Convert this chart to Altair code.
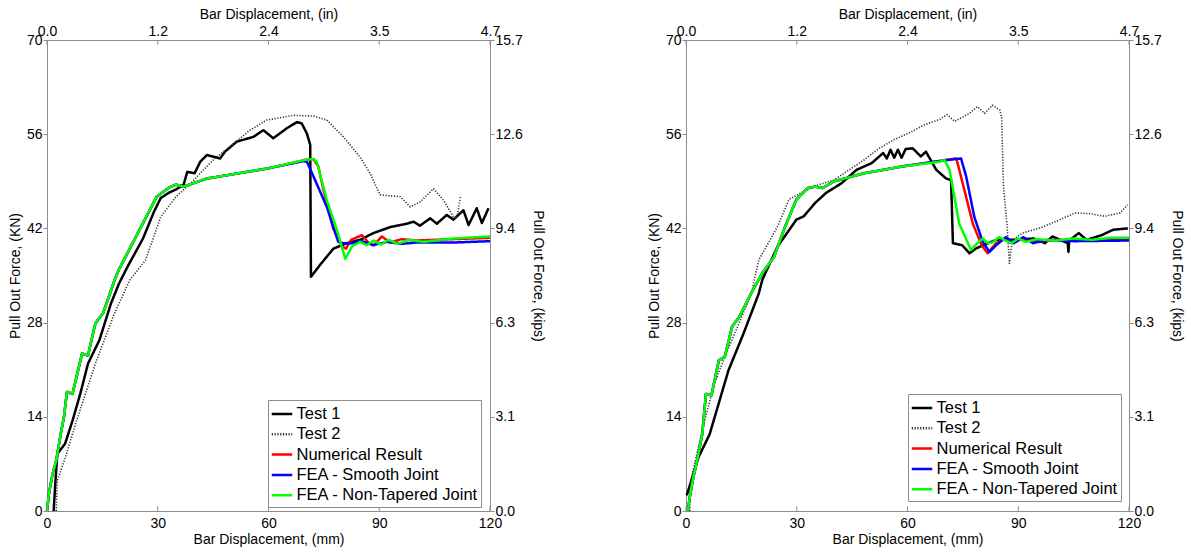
import json
import altair as alt
import pandas as pd

FONT = "Liberation Sans"
GRAY = "#8c8c8c"

SERIES = ["Test 1", "Test 2", "Numerical Result", "FEA - Smooth Joint", "FEA - Non-Tapered Joint"]
COLORS = ["#000000", "#333333", "#ff0000", "#0000ff", "#00ff00"]
DASHES = [[1, 0], [1.2, 1.6], [1, 0], [1, 0], [1, 0]]
WIDTHS = [2.5, 1.6, 2.5, 2.5, 2.5]

MM_TICKS = [0, 30, 60, 90, 120]
IN_LABELS = ["0.0", "1.2", "2.4", "3.5", "4.7"]
KN_TICKS = [0, 14, 28, 42, 56, 70]
KIPS_LABELS = ["0.0", "3.1", "6.3", "9.4", "12.6", "15.7"]

# ---------------- Left panel ----------------
L_T1_MM = [1.8, 2.3, 2.8, 4.9, 6.9, 9.0, 11.1, 14.2, 17.3, 19.5, 22.0, 26.0, 29.0, 30.8, 33.0, 35.0, 37.0, 38.0, 40.0,
           41.5, 43.3, 46.9, 48.2, 51.4, 55.9, 58.6, 61.3, 65.0, 67.7, 69.0, 70.4, 71.3, 71.5, 74.0, 77.6, 81.2,
           84.8, 88.4, 93.0, 97.5, 99.3, 101.0, 103.8, 105.6, 108.3, 110.1, 112.8, 114.2, 116.4, 117.8, 119.6]
L_T1_KN = [0.0, 4.5, 8.5, 10.0, 13.4, 17.4, 21.9, 25.4, 30.8, 33.8, 36.5, 40.5, 44.5, 46.5, 47.3, 47.8, 48.5, 50.4, 50.2,
           51.9, 52.9, 52.4, 53.4, 54.9, 55.6, 56.6, 55.4, 56.9, 57.8, 57.6, 56.1, 54.4, 34.8, 36.6, 39.0, 39.8,
           40.3, 41.3, 42.2, 42.7, 43.0, 42.4, 43.5, 42.7, 44.0, 43.3, 44.7, 42.5, 45.0, 42.8, 45.0]

L_T2_MM = [2.5, 2.8, 5.0, 8.0, 13.1, 18.3, 22.4, 26.7, 30.8, 34.9, 39.0, 41.5, 45.1, 50.5, 55.0, 59.5, 66.7, 72.2,
           75.8, 80.3, 84.8, 87.5, 90.2, 95.7, 98.4, 101.0, 104.7, 107.4, 110.1, 111.0, 112.0]
L_T2_KN = [0.0, 4.5, 8.0, 13.4, 21.9, 29.4, 34.3, 37.3, 43.7, 46.7, 48.7, 50.2, 52.2, 54.6, 56.6, 58.1, 58.8, 58.7,
           58.1, 55.6, 52.6, 50.2, 47.0, 46.7, 45.2, 45.9, 47.9, 46.2, 43.7, 43.5, 46.7]

L_FEA_RISE_MM = [0.0, 0.5, 1.5, 2.5, 3.8, 4.6, 5.4, 6.9, 9.5, 11.1, 13.1, 15.2, 18.3, 19.4, 24.6, 29.7, 32.9, 34.9,
                 37.0, 43.2, 59.7]
L_FEA_RISE_KN = [0.0, 2.5, 5.5, 7.5, 11.7, 14.0, 17.7, 17.4, 23.4, 23.1, 27.9, 29.4, 34.3, 35.8, 41.3, 46.7, 48.0, 48.5,
                 48.2, 49.4, 50.9]

L_RED_MM = [70.1, 72.2, 73.5, 74.9, 77.5, 79.9, 81.0, 82.4, 85.3, 87.2, 88.5, 90.7, 93.0, 96.0, 100.0, 110.0, 120.0]
L_RED_KN = [52.2, 52.3, 51.2, 47.7, 42.0, 39.3, 39.0, 40.3, 41.0, 39.8, 39.5, 40.8, 39.9, 40.4, 40.2, 40.4, 40.6]

L_BLUE_MM = [69.5, 70.4, 72.2, 75.8, 78.9, 80.3, 82.9, 84.8, 88.4, 92.0, 96.0, 100.0, 110.0, 120.0]
L_BLUE_KN = [52.0, 51.9, 49.7, 45.2, 40.0, 39.8, 39.8, 40.2, 39.5, 40.0, 39.7, 39.9, 39.9, 40.1]

L_GREEN_MM = [70.1, 72.2, 73.1, 75.8, 78.5, 80.8, 82.6, 84.8, 86.6, 88.5, 90.5, 92.5, 95.0, 98.0, 102.0, 110.0, 120.0]
L_GREEN_KN = [52.2, 52.3, 51.9, 46.2, 41.8, 37.5, 39.3, 40.0, 39.5, 40.2, 39.6, 40.3, 39.7, 40.3, 40.0, 40.5, 40.8]

# ---------------- Right panel ----------------
R_T1_MM = [0.0, 0.3, 3.4, 6.4, 11.5, 15.6, 19.7, 20.7, 24.8, 29.9, 31.9, 35.0, 38.0, 42.1, 46.2, 50.3, 53.4, 54.4,
           55.4, 56.4, 57.4, 58.4, 59.5, 61.4, 63.6, 65.0, 67.8, 70.5, 71.8, 72.3, 74.8, 76.8, 78.5, 80.5, 84.0,
           89.1, 94.2, 97.2, 99.3, 103.4, 103.6, 103.8, 106.4, 108.5, 112.6, 115.7, 119.7]
R_T1_KN = [2.4, 2.5, 8.0, 11.4, 20.9, 26.4, 32.3, 34.4, 39.3, 43.3, 43.8, 45.8, 47.3, 48.7, 50.7, 51.7, 53.2, 52.4,
           53.7, 52.5, 53.7, 52.5, 53.8, 53.9, 52.7, 53.4, 50.7, 49.4, 49.2, 39.8, 39.5, 38.3, 39.0, 39.5, 40.3,
           40.3, 40.5, 39.8, 40.8, 39.8, 38.5, 40.2, 41.3, 40.3, 41.0, 41.8, 42.0]

R_T2_MM = [1.0, 1.3, 4.4, 7.4, 10.5, 13.6, 17.7, 19.7, 22.8, 24.8, 27.9, 31.9, 36.0, 40.1, 44.2, 48.3, 52.3, 56.4,
           60.5, 64.6, 68.7, 70.7, 72.8, 76.8, 78.9, 80.9, 83.0, 85.0, 85.5, 86.0, 87.0, 87.6, 88.4, 91.1, 94.2,
           96.6, 101.3, 105.4, 109.2, 113.5, 117.6, 119.6]
R_T2_KN = [0.0, 4.5, 12.0, 18.4, 22.9, 26.9, 32.3, 37.3, 40.3, 42.3, 46.3, 47.5, 48.5, 49.2, 50.7, 52.2, 53.9, 55.2,
           56.2, 57.4, 58.2, 58.9, 57.9, 59.1, 60.1, 59.1, 60.3, 59.6, 58.5, 48.2, 42.3, 36.8, 40.2, 41.3, 41.8,
           42.2, 43.3, 44.3, 44.2, 43.8, 44.3, 45.5]

R_FEA_RISE_MM = [0.5, 1.0, 1.8, 3.0, 4.4, 5.4, 6.9, 8.9, 10.5, 12.5, 14.5, 17.6, 19.6, 20.7, 23.8, 26.8, 29.9, 33.0,
                 35.0, 37.0, 40.1, 48.3, 58.5]
R_FEA_RISE_KN = [0.0, 2.0, 4.5, 7.5, 11.4, 17.4, 17.2, 22.4, 22.9, 27.4, 28.9, 32.3, 34.3, 35.4, 37.7, 42.2, 46.3, 48.0,
                 48.2, 48.0, 49.0, 50.2, 51.2]

R_RED_MM = [69.7, 73.2, 73.8, 75.4, 77.7, 80.1, 81.7, 84.0, 86.7, 88.5, 91.0, 95.0, 100.0, 110.0, 120.0]
R_RED_KN = [52.1, 52.4, 51.2, 47.7, 42.7, 39.5, 38.3, 39.8, 40.5, 39.9, 40.4, 40.0, 40.3, 40.2, 40.3]

R_BLUE_MM = [69.7, 74.5, 75.9, 78.1, 80.4, 82.2, 84.0, 86.7, 88.8, 91.4, 94.0, 98.0, 105.0, 120.0]
R_BLUE_KN = [52.1, 52.4, 49.7, 43.7, 40.0, 38.5, 39.5, 40.7, 39.8, 40.7, 39.8, 40.3, 40.1, 40.2]

R_GREEN_MM = [68.7, 70.0, 71.4, 74.0, 77.2, 78.9, 80.4, 81.7, 83.0, 84.8, 86.5, 88.1, 90.0, 92.0, 95.0, 100.0,
              105.0, 110.0, 115.0, 120.0]
R_GREEN_KN = [51.9, 52.2, 50.7, 42.7, 38.8, 39.8, 40.5, 39.8, 39.9, 40.7, 40.2, 39.8, 40.5, 40.0, 40.4, 40.2,
              40.5, 40.3, 40.6, 40.6]

LEFT = {
    "Test 1": (L_T1_MM, L_T1_KN),
    "Test 2": (L_T2_MM, L_T2_KN),
    "Numerical Result": (L_FEA_RISE_MM + L_RED_MM, L_FEA_RISE_KN + L_RED_KN),
    "FEA - Smooth Joint": (L_FEA_RISE_MM + L_BLUE_MM, L_FEA_RISE_KN + L_BLUE_KN),
    "FEA - Non-Tapered Joint": (L_FEA_RISE_MM + L_GREEN_MM, L_FEA_RISE_KN + L_GREEN_KN),
}
RIGHT = {
    "Test 1": (R_T1_MM, R_T1_KN),
    "Test 2": (R_T2_MM, R_T2_KN),
    "Numerical Result": (R_FEA_RISE_MM + R_RED_MM, R_FEA_RISE_KN + R_RED_KN),
    "FEA - Smooth Joint": (R_FEA_RISE_MM + R_BLUE_MM, R_FEA_RISE_KN + R_BLUE_KN),
    "FEA - Non-Tapered Joint": (R_FEA_RISE_MM + R_GREEN_MM, R_FEA_RISE_KN + R_GREEN_KN),
}

W, H = 443, 471

top_expr = "%s[indexof(%s, datum.value)]" % (json.dumps(IN_LABELS).replace('"', "'"), json.dumps(MM_TICKS))
right_expr = "%s[indexof(%s, datum.value)]" % (json.dumps(KIPS_LABELS).replace('"', "'"), json.dumps(KN_TICKS))


def make_legend(lx, ly):
    return alt.Legend(
        orient="none", legendX=lx, legendY=ly, title=None,
        symbolType="stroke", symbolSize=420, symbolStrokeWidth=2.5,
        labelFontSize=16.5, labelFont=FONT, labelColor="black", labelLimit=400,
        fillColor="white", strokeColor=GRAY, padding=2.5, rowPadding=0.3, labelOffset=3,
    )


def panel(data, lx, ly):
    rows = []
    for name, (xs, ys) in data.items():
        for i, (x, y) in enumerate(zip(xs, ys)):
            rows.append({"series": name, "idx": i, "mm": x, "kn": y})
    df = pd.DataFrame(rows)
    xs = alt.Scale(domain=[0, 120], nice=False, zero=False)
    ys = alt.Scale(domain=[0, 70], nice=False, zero=False)
    leg = make_legend(lx, ly)
    color = alt.Color("series:N", scale=alt.Scale(domain=SERIES, range=COLORS), legend=leg)
    dash = alt.StrokeDash("series:N", scale=alt.Scale(domain=SERIES, range=DASHES), legend=leg)

    layers = []
    for k, (name, w) in enumerate(zip(SERIES, WIDTHS)):
        if k == 0:
            xenc = alt.X("mm:Q", scale=xs, axis=alt.Axis(
                orient="bottom", values=MM_TICKS, title="Bar Displacement, (mm)", tickSize=0,
                labelPadding=5, titlePadding=2))
            yenc = alt.Y("kn:Q", scale=ys, axis=alt.Axis(
                orient="left", values=KN_TICKS, title="Pull Out Force, (KN)", tickSize=4,
                labelPadding=1, titlePadding=4))
        else:
            xenc = alt.X("mm:Q", scale=xs, axis=None)
            yenc = alt.Y("kn:Q", scale=ys, axis=None)
        layers.append(
            alt.Chart(df).transform_filter(alt.datum.series == name)
            .mark_line(strokeWidth=w, strokeJoin="round", strokeCap="butt")
            .encode(x=xenc, y=yenc, color=color, strokeDash=dash, order=alt.Order("idx:Q"))
        )

    ticks_df = pd.DataFrame({"mm": MM_TICKS})
    top = alt.Chart(ticks_df).mark_rule(color=GRAY, strokeWidth=1).encode(
        x=alt.X("mm:Q", scale=xs, axis=alt.Axis(
            orient="top", values=MM_TICKS, labelExpr=top_expr, title="Bar Displacement, (in)",
            tickSize=0, labelPadding=2, titlePadding=3)),
        y=alt.YDatum(70, type="quantitative", scale=ys, axis=alt.Axis(
            orient="right", values=KN_TICKS, labelExpr=right_expr, title="Pull Out Force, (kips)",
            tickSize=4, labelPadding=1, titlePadding=8)),
        y2=alt.Y2Datum(69.3),
    )
    bottom = alt.Chart(ticks_df).mark_rule(color=GRAY, strokeWidth=1).encode(
        x=alt.X("mm:Q", scale=xs, axis=None),
        y=alt.YDatum(0, type="quantitative", scale=ys, axis=None),
        y2=alt.Y2Datum(0.7),
    )
    return alt.layer(*layers, top, bottom).resolve_axis(x="independent", y="independent").properties(
        width=W, height=H)


left = panel(LEFT, 221, 360)
right = panel(RIGHT, 222, 354)

chart = alt.hconcat(left, right, spacing=102).resolve_scale(
    color="independent", strokeDash="independent"
).resolve_legend(color="independent", strokeDash="independent").configure(
    padding={"left": 8, "top": 7, "right": 4, "bottom": 2},
    background="white",
).configure_view(stroke=None).configure_axis(
    grid=False, domainColor=GRAY, domainWidth=1, tickColor=GRAY, tickWidth=1,
    labelFont=FONT, labelFontSize=14, labelColor="black", labelFlush=False, labelOverlap=False,
    titleFont=FONT, titleFontSize=14, titleFontWeight="normal", titleColor="black",
)

chart.save("out.html", embed_options={"renderer": "svg", "actions": False})
